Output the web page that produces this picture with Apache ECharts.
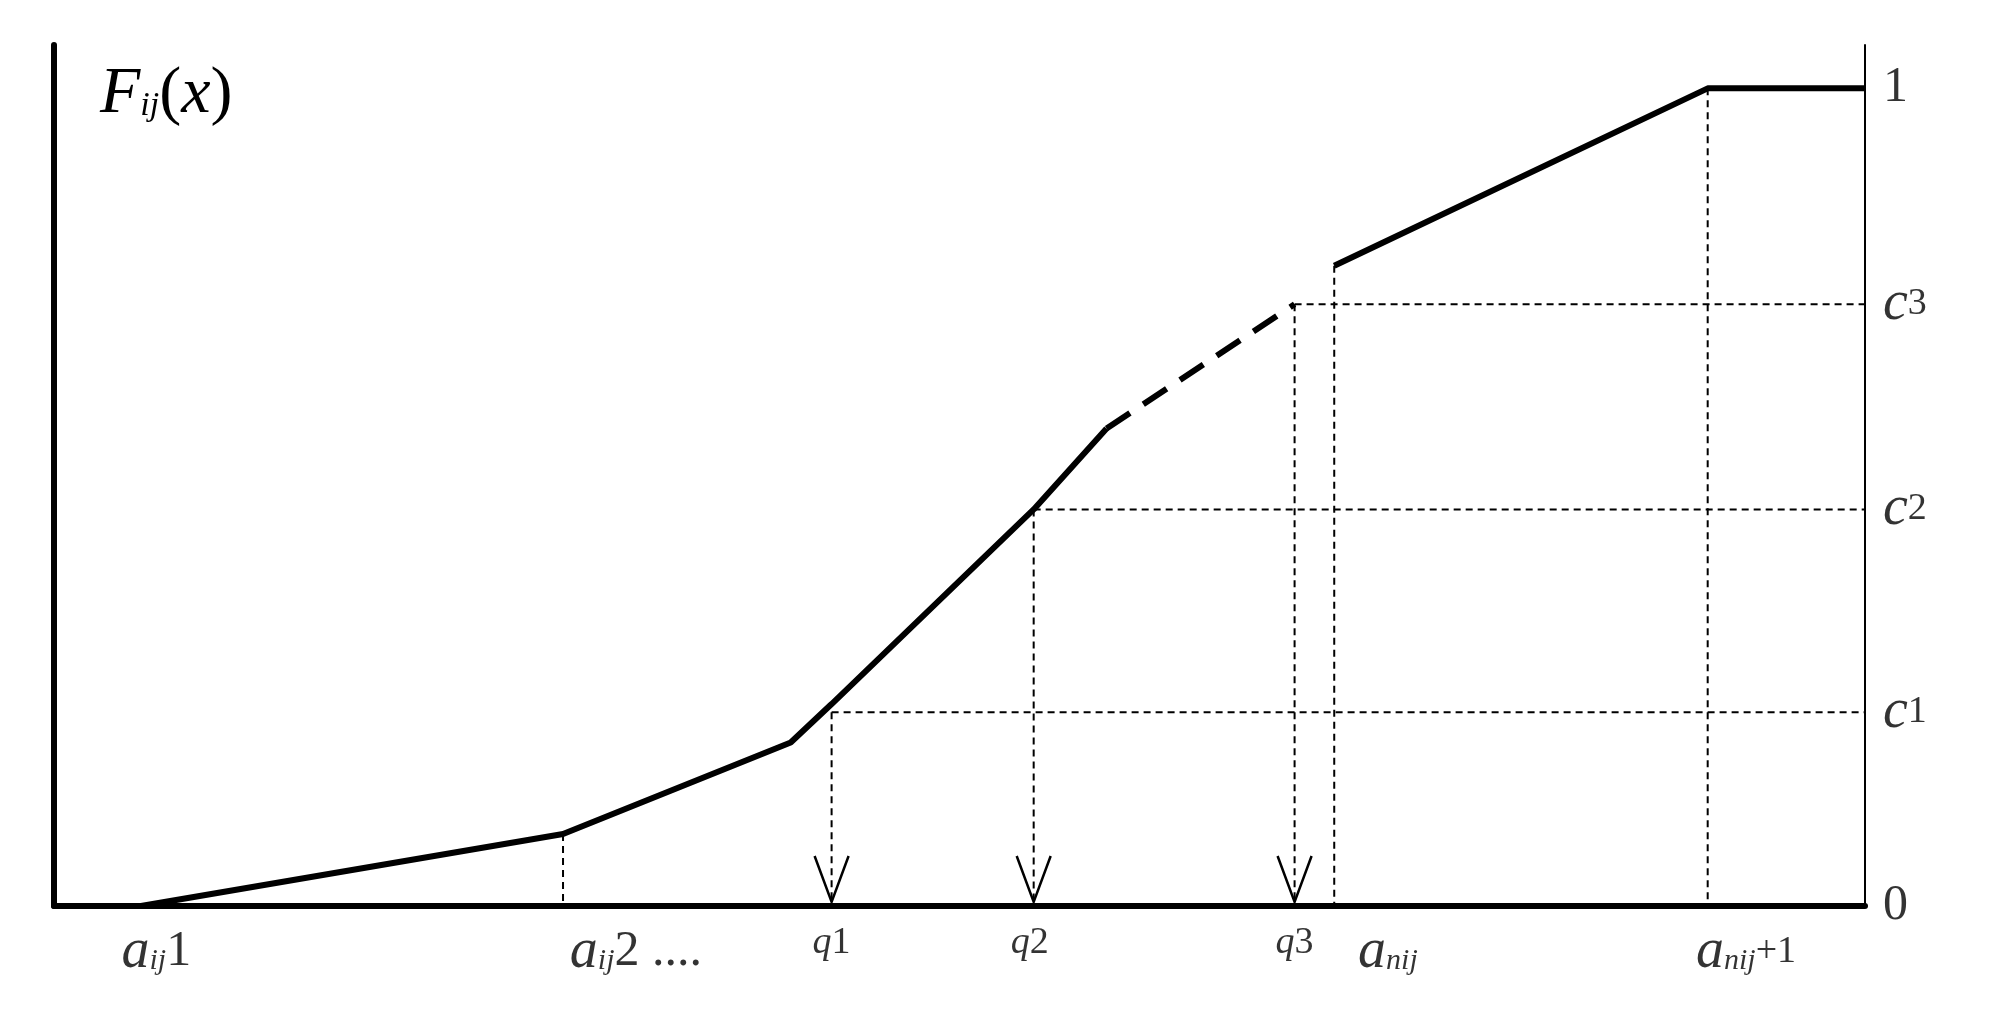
<!DOCTYPE html>
<html><head><meta charset="utf-8">
<script src="https://cdn.jsdelivr.net/npm/echarts@6/dist/echarts.min.js"></script>
<style>html,body{margin:0;background:#fff}#c{width:2000px;height:1024px}</style>
</head><body><div id="c"></div>
<script>
// curve F_ij(x), x in arbitrary units, y in [0,1]
var curveSolid1 = [[0, 0], [68, 0], [398, 0.088], [576, 0.2], [608, 0.247], [766, 0.485], [823, 0.584]];
var curveDashed = [[823, 0.584], [970, 0.736]];
var curveSolid2 = [[1001, 0.783], [1293, 1], [1416, 1]];
var cLevels = [0.237, 0.485, 0.736];
var qX = [608, 766, 970];
var dropX = [[398, 0.088], [1001, 0.783], [1293, 1]];
var bottomLabels = [
  [-4, '{n|0}'], [80, '{i|a}{s|ij}{n|1}'], [455, '{i|a}{s|ij}{n|2 ....}'],
  [608, '{q|q}{n2|1}'], [763, '{q|q}{n2|2}'], [970, '{q|q}{n2|3}'],
  [1043, '{i|a}{s|nij}'], [1323, '{i|a}{s|nij}{n2|+1}']
];
var rightLabels = [[1, '{n|1}'], [0, '{n|0}'], [0.237, '{i|c}{n2|1}'], [0.485, '{i|c}{n2|2}'], [0.736, '{i|c}{n2|3}']];

var rich = {
  n: {fontFamily: 'Liberation Serif', fontSize: 50, color: '#000'},
  n2: {fontFamily: 'Liberation Serif', fontSize: 38, color: '#000'},
  i: {fontFamily: 'Liberation Serif', fontStyle: 'italic', fontSize: 56, color: '#000'},
  q: {fontFamily: 'Liberation Serif', fontStyle: 'italic', fontSize: 38, color: '#000'},
  s: {fontFamily: 'Liberation Serif', fontStyle: 'italic', fontSize: 30, color: '#000', padding: [18, 0, 0, 0]}
};
var XMAX = 1416, YMAX = 1.053;
var dash = {color: '#000', width: 2, type: [7, 5]};
var series = [];
function line(data, style, z) {
  series.push({type: 'line', data: data, symbol: 'none', silent: true, lineStyle: style, z: z || 2});
}
line(curveSolid1, {color: '#000', width: 6}, 5);
line(curveDashed, {color: '#000', width: 6, type: [28, 16]}, 5);
line(curveSolid2, {color: '#000', width: 6}, 5);
cLevels.forEach(function (c, k) {
  line([[qX[k], c], [XMAX, c]], dash);
  line([[qX[k], c], [qX[k], 0]], dash);
});
dropX.forEach(function (p) { line([[p[0], p[1]], [p[0], 0]], dash); });
// open arrow heads
series.push({
  type: 'custom', silent: true, z: 6,
  data: qX.map(function (x) { return [x, 0]; }),
  renderItem: function (params, api) {
    var p = api.coord([api.value(0), api.value(1)]);
    return {type: 'polyline', shape: {points: [[p[0] - 17, p[1] - 50], [p[0], p[1] - 4], [p[0] + 17, p[1] - 50]]},
      style: {stroke: '#000', lineWidth: 2.5, fill: null}};
  }
});
series.push({
  type: 'scatter', symbolSize: 0, silent: true,
  data: bottomLabels.map(function (d) { return {value: [d[0], 0], label: {formatter: d[1]}}; }),
  label: {show: true, position: 'bottom', distance: 18, rich: rich}
});
series.push({
  type: 'scatter', symbolSize: 0, silent: true,
  data: rightLabels.map(function (d) { return {value: [XMAX, d[0]], label: {formatter: d[1]}}; }),
  label: {show: true, position: 'right', distance: 18, rich: rich}
});
var chart = echarts.init(document.getElementById('c'));
chart.setOption({
  animation: false,
  grid: {left: 54, right: 135, top: 45, bottom: 118},
  xAxis: {type: 'value', min: 0, max: XMAX, splitLine: {show: false}, axisTick: {show: false}, axisLabel: {show: false},
    axisLine: {lineStyle: {color: '#000', width: 6}}},
  yAxis: [
    {type: 'value', min: 0, max: YMAX, splitLine: {show: false}, axisTick: {show: false}, axisLabel: {show: false},
      axisLine: {show: true, lineStyle: {color: '#000', width: 6}}},
    {type: 'value', position: 'right', min: 0, max: YMAX, splitLine: {show: false}, axisTick: {show: false}, axisLabel: {show: false},
      axisLine: {show: true, lineStyle: {color: '#000', width: 2}}}
  ],
  graphic: [{type: 'text', left: 100, top: 62, style: {
    text: '{F|F}{s|ij}{p|(}{x|x}{p|)}',
    rich: {
      F: {fontFamily: 'Liberation Serif', fontStyle: 'italic', fontSize: 66, color: '#000'},
      s: {fontFamily: 'Liberation Serif', fontStyle: 'italic', fontSize: 34, color: '#000', padding: [22, 0, 0, 0]},
      p: {fontFamily: 'Liberation Serif', fontSize: 66, color: '#000'},
      x: {fontFamily: 'Liberation Serif', fontStyle: 'italic', fontSize: 66, color: '#000'}
    }}}],
  series: series
});
</script></body></html>
